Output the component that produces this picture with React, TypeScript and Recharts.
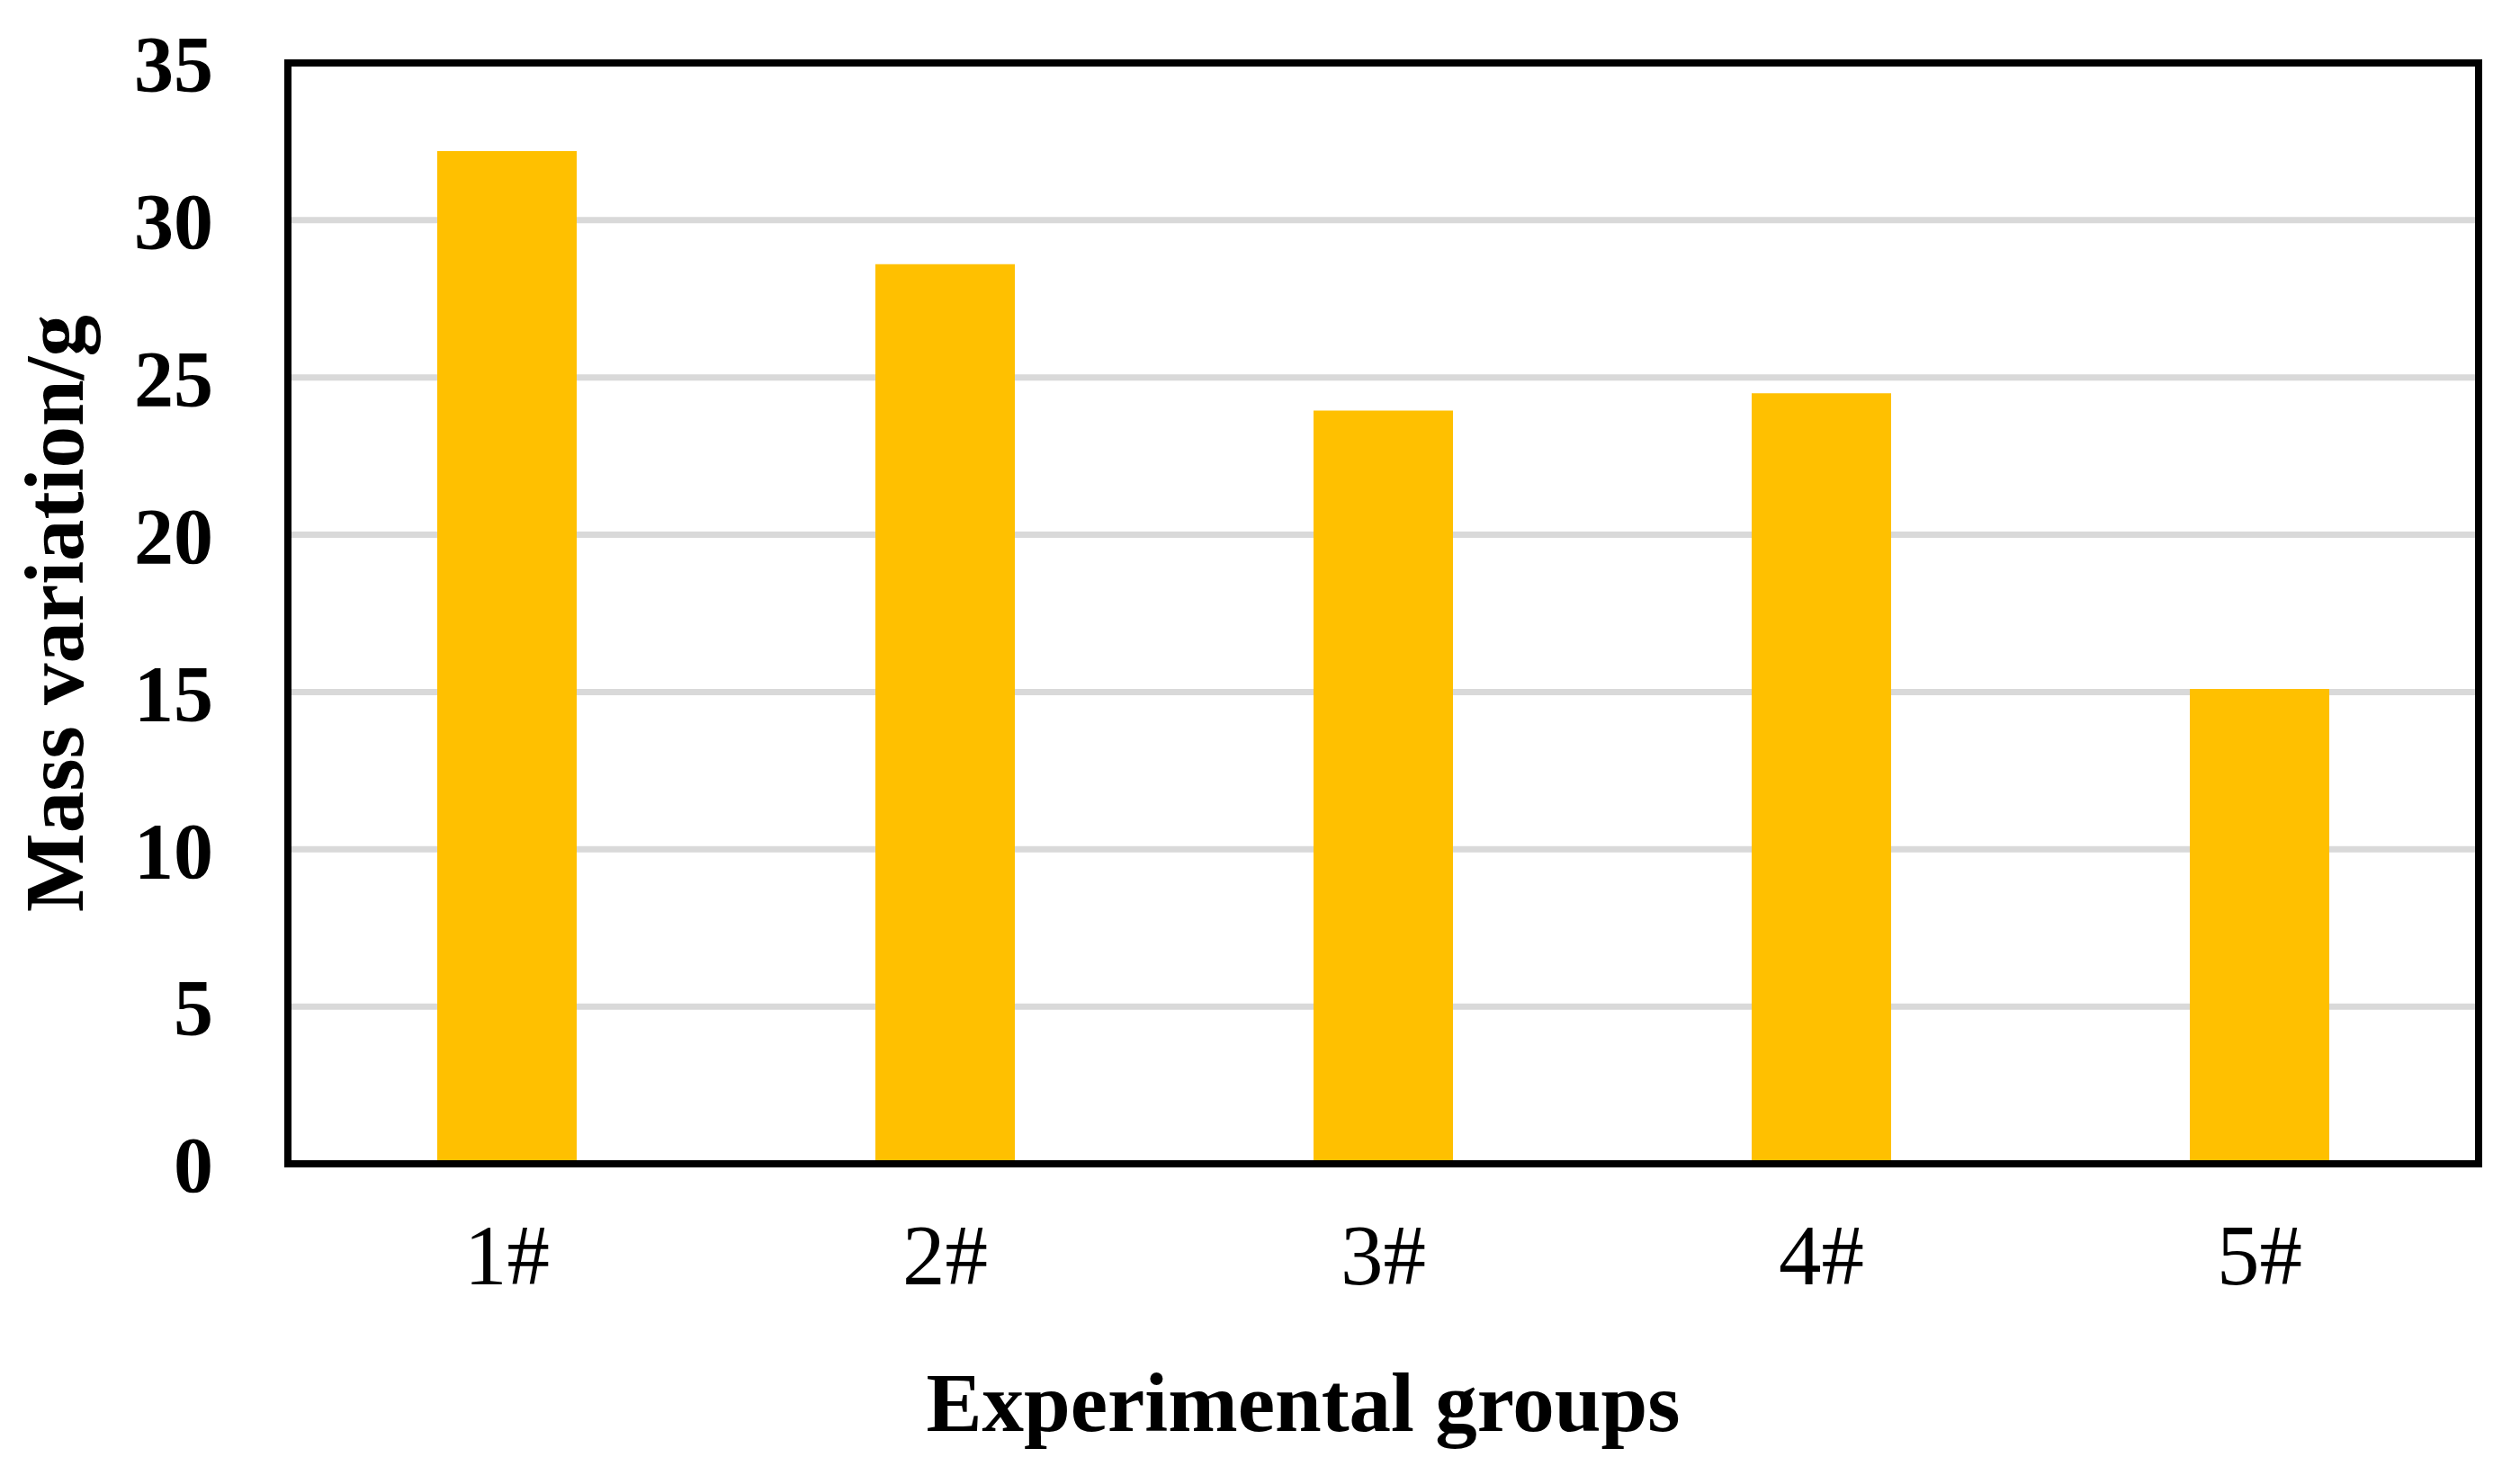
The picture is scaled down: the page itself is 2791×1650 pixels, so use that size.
import React from 'react';
import { BarChart, Bar, XAxis, YAxis, CartesianGrid, ReferenceArea } from 'recharts';

const categories = ['1#', '2#', '3#', '4#', '5#'];
const massValues = [32.2, 28.6, 23.95, 24.5, 15.1];
const yTicks = [0, 5, 10, 15, 20, 25, 30, 35];

const data = categories.map((group, i) => ({ group, mass: massValues[i] }));

const FONT = '"Liberation Serif", "Times New Roman", serif';

export default function App() {
  return (
    <div style={{ position: 'absolute', left: 0, top: 0, width: 2791, height: 1650, background: '#fff' }}>
      <BarChart
        width={2791}
        height={1650}
        data={data}
        margin={{ top: 70, right: 36, bottom: 0, left: 0 }}
      >
        <CartesianGrid vertical={false} stroke="#d9d9d9" strokeWidth={7} />
        <XAxis
          dataKey="group"
          height={356}
          interval={0}
          axisLine={{ stroke: '#000', strokeWidth: 8 }}
          tickLine={false}
          tickSize={0}
          tickMargin={67}
          tick={{ fill: '#000', fontSize: 95, fontFamily: FONT }}
          label={{
            value: 'Experimental groups',
            position: 'insideBottom',
            offset: 59,
            dx: -89,
            style: { fill: '#000', fontSize: 93, fontWeight: 'bold', fontFamily: FONT },
          }}
        />
        <YAxis
          width={320}
          domain={[0, 35]}
          ticks={yTicks}
          interval={0}
          axisLine={{ stroke: '#000', strokeWidth: 8 }}
          tickLine={false}
          tickSize={0}
          tickMargin={83}
          tick={{ fill: '#000', fontSize: 88, fontWeight: 'bold', fontFamily: FONT }}
          label={{
            value: 'Mass variation/g',
            angle: -90,
            position: 'insideLeft',
            offset: 59,
            style: { textAnchor: 'middle', fill: '#000', fontSize: 93, fontWeight: 'bold', fontFamily: FONT },
          }}
        />
        <Bar dataKey="mass" fill="#FFC000" barSize={155} isAnimationActive={false} />
        <ReferenceArea
          y1={0}
          y2={35}
          fill="#fff"
          fillOpacity={0}
          stroke="#000"
          strokeWidth={8}
          strokeOpacity={1}
          ifOverflow="visible"
        />
      </BarChart>
    </div>
  );
}
